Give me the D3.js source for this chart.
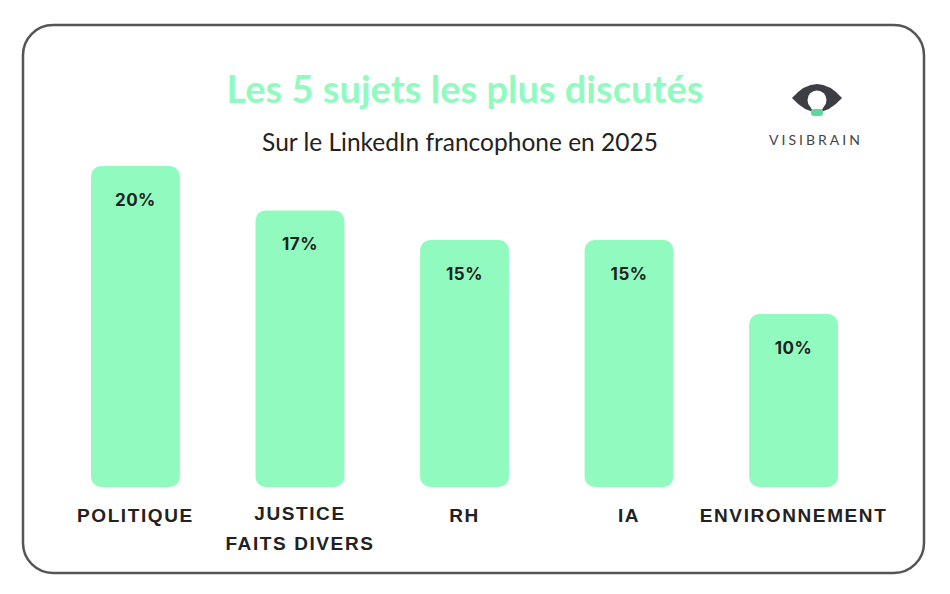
<!DOCTYPE html>
<html>
<head>
<meta charset="utf-8">
<script src="https://cdn.jsdelivr.net/npm/d3@7"></script>
<style>
  body { margin: 0; background: #fff; }
</style>
</head>
<body>
<script>
// donnees
var categories = ['POLITIQUE', 'JUSTICE|FAITS DIVERS', 'RH', 'IA', 'ENVIRONNEMENT'];
var valeurs = [20, 17, 15, 15, 10];
var titre = 'Les 5 sujets les plus discutés';
var sousTitre = 'Sur le LinkedIn francophone en 2025';

var vert = '#91fbbf';
var svg = d3.select('body').append('svg').attr('width', 950).attr('height', 594);

// cadre
svg.append('rect').attr('x', 23).attr('y', 25).attr('width', 901).attr('height', 548)
    .attr('rx', 30).attr('fill', 'white').attr('stroke', '#555').attr('stroke-width', 2.5);

// titres
svg.append('text').attr('x', 465).attr('y', 103).attr('text-anchor', 'middle')
    .attr('font-family', 'Lato').attr('font-weight', 700).attr('font-size', 38)
    .attr('fill', vert).text(titre);
svg.append('text').attr('x', 460).attr('y', 151).attr('text-anchor', 'middle')
    .attr('font-family', 'Lato').attr('font-size', 24.5)
    .attr('fill', '#222').text(sousTitre);

// logo
var logo = svg.append('g');
logo.append('path').attr('d', 'M792,98 Q817,70 842,98 Q817,126 792,98 Z').attr('fill', '#3d3e44');
logo.append('circle').attr('cx', 817).attr('cy', 100).attr('r', 9.5).attr('fill', 'white');
logo.append('path').attr('d', 'M808.5,103 L825.5,103 L822,110 L812,110 Z').attr('fill', 'white');
logo.append('rect').attr('x', 811).attr('y', 109).attr('width', 12).attr('height', 7)
    .attr('rx', 3).attr('fill', '#5fd6a0');
logo.append('text').attr('x', 816).attr('y', 145).attr('text-anchor', 'middle')
    .attr('font-family', 'Lato').attr('font-size', 14).attr('letter-spacing', 3)
    .attr('fill', '#444').text('VISIBRAIN');

// echelles
var x = d3.scaleBand().domain(categories).range([91, 838]).paddingInner(0.46).paddingOuter(0);
var y = d3.scaleLinear().domain([0, 20]).range([462, 166]);
var base = 487;

var barres = svg.append('g');
barres.selectAll('rect').data(valeurs).enter().append('rect')
    .attr('x', function(d, i){ return x(categories[i]); })
    .attr('y', function(d){ return y(d); })
    .attr('width', x.bandwidth())
    .attr('height', function(d){ return base - y(d); })
    .attr('rx', 10).attr('fill', vert);

barres.selectAll('text').data(valeurs).enter().append('text')
    .attr('x', function(d, i){ return x(categories[i]) + x.bandwidth() / 2; })
    .attr('y', function(d){ return y(d) + 40; })
    .attr('text-anchor', 'middle')
    .attr('font-family', 'Inter').attr('font-weight', 700).attr('font-size', 17)
    .attr('letter-spacing', 0.5).attr('fill', '#222')
    .text(function(d){ return d + '%'; });

// libelles
var lib = svg.append('g');
categories.forEach(function(c){
    var lignes = c.split('|');
    var t = lib.append('text').attr('text-anchor', 'middle')
        .attr('font-family', 'Liberation Sans').attr('font-weight', 700).attr('font-size', 19)
        .attr('letter-spacing', 1.6).attr('fill', '#222');
    lignes.forEach(function(l, k){
        t.append('tspan').attr('x', x(c) + x.bandwidth() / 2)
            .attr('y', (lignes.length > 1 ? 520 : 522) + k * 30).text(l);
    });
});
</script>
</body>
</html>
